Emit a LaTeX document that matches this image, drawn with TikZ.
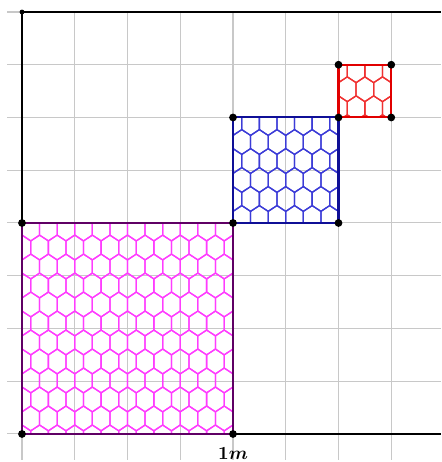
\documentclass[tikz,border=0pt]{standalone}
\usepackage{amsmath,bm}
\definecolor{gridc}{RGB}{200,200,200}
\definecolor{magpat}{RGB}{255,60,255}
\definecolor{magbord}{RGB}{95,0,100}
\definecolor{bluepat}{RGB}{60,60,215}
\definecolor{bluebord}{RGB}{15,15,150}
\definecolor{redpat}{RGB}{240,50,50}
\definecolor{redbord}{RGB}{225,0,0}
% half width, half vertical side, apex rise
\def\hw{0.166667}
\def\ha{0.125}
\def\hb{0.11}
% args: left, bottom, right, top, last row, last column, parity, colour
\newcommand\hexregion[8]{%
  \begin{scope}
    \clip (#1,#2) rectangle (#3,#4);
    \foreach \j in {0,...,#5}{
      \foreach \i in {-1,...,#6}{
        \pgfmathsetmacro\cx{#1+(\i+0.5+0.5*mod(\j+#7,2))/3}
        \pgfmathsetmacro\cy{#4-0.105-0.36*\j}
        \draw[hexline,#8] (\cx,\cy) +(0,\ha+\hb) -- +(-\hw,\ha) -- +(-\hw,-\ha)
          -- +(0,-\ha-\hb) -- +(\hw,-\ha) -- +(\hw,\ha) -- cycle;
      }}
  \end{scope}}
\tikzset{
  hexline/.style={line width=0.7pt, line join=round},
  gridline/.style={gridc, line width=0.55pt},
  axisline/.style={black, line width=1.6pt},
  border/.style={line width=1.1pt},
  dot/.style={circle, fill=black, inner sep=0pt, minimum size=4.2pt},
}
\begin{document}
\begin{tikzpicture}
\useasboundingbox (-0.417,-0.531) rectangle (7.943,8.227);
% grid
\draw[gridline] (-0.28,-0.49) grid (7.95,8);
% axes
\draw[black, line width=0.6pt] (0,8) -- (7.95,8);
\draw[axisline] (0,0) -- (0,8);
\draw[axisline] (0,0) -- (7.95,0);
% hexagon patterns
\hexregion{0}{0}{4}{4}{12}{12}{0}{magpat}
\hexregion{4}{4}{6}{6}{6}{6}{1}{bluepat}
\hexregion{6}{6}{7}{7}{3}{3}{1}{redpat}
% borders
\draw[border, magbord] (0,0) rectangle (4,4);
\draw[border, bluebord] (4,4) rectangle (6,6);
\draw[border, redbord] (6,6) rectangle (7,7);
% dots
\node[dot] (o) at (0,0) {};
\node[dot] (a) at (4,0) {};
\node[dot] (b) at (0,4) {};
\node[dot] (c) at (4,4) {};
\node[dot] (d) at (6,4) {};
\node[dot] (e) at (4,6) {};
\node[dot] (f) at (6,6) {};
\node[dot] (g) at (7,6) {};
\node[dot] (h) at (6,7) {};
\node[dot] (k) at (7,7) {};
\node[circle, fill=black, inner sep=0pt, minimum size=2.6pt] (top) at (0,8) {};
% label
\node[below=4pt] (lbl) at (a) {$\bm{1m}$};
\end{tikzpicture}
\end{document}
